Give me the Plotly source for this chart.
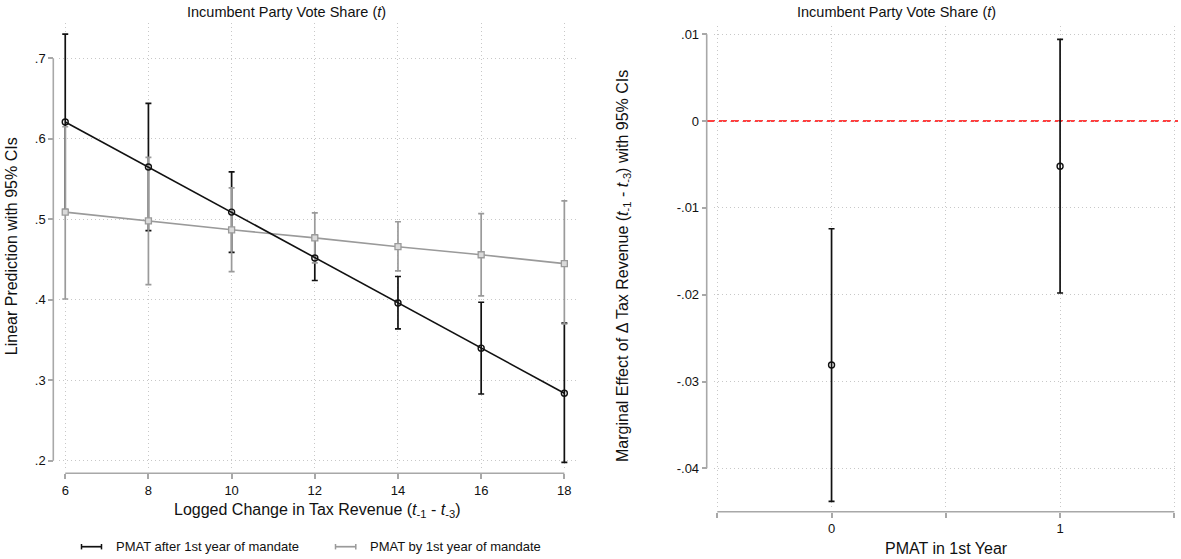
import plotly.graph_objects as go

# ---------------- data ----------------
tax_change = [6, 8, 10, 12, 14, 16, 18]

after_est = [0.621, 0.565, 0.509, 0.452, 0.396, 0.340, 0.284]
after_lo = [0.512, 0.486, 0.459, 0.424, 0.364, 0.283, 0.198]
after_hi = [0.730, 0.644, 0.559, 0.480, 0.429, 0.397, 0.371]

by_est = [0.509, 0.498, 0.487, 0.477, 0.466, 0.456, 0.445]
by_lo = [0.401, 0.419, 0.435, 0.446, 0.436, 0.405, 0.370]
by_hi = [0.615, 0.577, 0.539, 0.508, 0.497, 0.507, 0.523]

pmat_cat = [0, 1]
me_est = [-0.0281, -0.0052]
me_lo = [-0.0438, -0.0198]
me_hi = [-0.0124, 0.0094]

left_yticks = [0.2, 0.3, 0.4, 0.5, 0.6, 0.7]
left_ytext = [".2", ".3", ".4", ".5", ".6", ".7"]
left_xticks = [6, 8, 10, 12, 14, 16, 18]
left_xtext = ["6", "8", "10", "12", "14", "16", "18"]

right_yticks = [-0.04, -0.03, -0.02, -0.01, 0, 0.01]
right_ytext = ["-.04", "-.03", "-.02", "-.01", "0", ".01"]
right_xticks = [0, 1]
right_xtext = ["0", "1"]
right_xrange_ends = [-0.5, 1.5]

series_names = ["PMAT after 1st year of mandate", "PMAT by 1st year of mandate"]

# ---------------- layout helpers ----------------
W, H = 1181, 559
FONT = "Liberation Sans, Arial, sans-serif"
BLACK = "#111111"
GRAY = "#9a9a9a"
AXC = "#a8a8a8"
GRIDC = "#c8c8c8"


def px(x):
    return x / W


def py(y):
    return 1 - y / H


def diff(a, b):
    return [x - y for x, y in zip(a, b)]


fig = go.Figure()

# CIs first (black, then gray on top), then connected lines
fig.add_trace(go.Scatter(
    x=tax_change, y=after_est, mode="markers", marker=dict(size=1, opacity=0),
    error_y=dict(type="data", symmetric=False, array=diff(after_hi, after_est),
                 arrayminus=diff(after_est, after_lo), color=BLACK, thickness=1.7, width=3),
    showlegend=False, hoverinfo="skip", xaxis="x", yaxis="y"))
fig.add_trace(go.Scatter(
    x=tax_change, y=by_est, mode="markers", marker=dict(size=1, opacity=0),
    error_y=dict(type="data", symmetric=False, array=diff(by_hi, by_est),
                 arrayminus=diff(by_est, by_lo), color=GRAY, thickness=1.7, width=3),
    showlegend=False, hoverinfo="skip", xaxis="x", yaxis="y"))
fig.add_trace(go.Scatter(
    x=tax_change, y=by_est, mode="lines+markers", name=series_names[1],
    line=dict(color=GRAY, width=1.6),
    marker=dict(symbol="square", size=6, color="#dadada", line=dict(color=GRAY, width=1.3)),
    showlegend=False, xaxis="x", yaxis="y"))
fig.add_trace(go.Scatter(
    x=tax_change, y=after_est, mode="lines+markers", name=series_names[0],
    line=dict(color=BLACK, width=1.6),
    marker=dict(symbol="circle-open", size=6, color=BLACK, line=dict(width=1.4)),
    showlegend=False, xaxis="x", yaxis="y"))

# right panel
fig.add_trace(go.Scatter(
    x=pmat_cat, y=me_est, mode="markers",
    marker=dict(symbol="circle-open", size=6, color=BLACK, line=dict(width=1.4)),
    error_y=dict(type="data", symmetric=False, array=diff(me_hi, me_est),
                 arrayminus=diff(me_est, me_lo), color=BLACK, thickness=1.7, width=3),
    showlegend=False, xaxis="x2", yaxis="y2"))

tickfont = dict(family=FONT, size=13, color=BLACK)
common_axis = dict(showline=False, zeroline=False, showgrid=True, gridcolor=GRIDC,
                   gridwidth=1, griddash="1px,3px", ticks="outside", ticklen=5,
                   tickwidth=1.5, tickcolor=AXC, tickfont=tickfont, tickmode="array")

fig.update_layout(
    width=W, height=H, margin=dict(l=0, r=0, t=0, b=0),
    paper_bgcolor="white", plot_bgcolor="white", showlegend=False,
    font=dict(family=FONT, color=BLACK),
    xaxis=dict(domain=[px(59), px(576)], range=[5.85, 18.28], anchor="free",
               position=py(473.3), tickvals=left_xticks, ticktext=left_xtext, **common_axis),
    yaxis=dict(domain=[py(470), py(23)], range=[0.1886, 0.7439], anchor="free",
               position=px(53.3), tickvals=left_yticks, ticktext=left_ytext, **common_axis),
    xaxis2=dict(domain=[px(714), px(1178)], range=[-0.5144, 1.516], anchor="free",
                position=py(511.7), tickvals=right_xticks, ticktext=right_xtext,
                minor=dict(tick0=right_xrange_ends[0], dtick=0.5, ticks="outside", ticklen=5,
                           tickwidth=1.5, tickcolor=AXC, showgrid=True, gridcolor=GRIDC,
                           gridwidth=1, griddash="1px,3px"),
                **common_axis),
    yaxis2=dict(domain=[py(507), py(26)], range=[-0.04445, 0.01095], anchor="free",
                position=px(706.7), tickvals=right_yticks, ticktext=right_ytext, **common_axis),
)

shapes = [
    # Stata-style axis lines spanning the tick range
    dict(type="line", xref="paper", yref="y", x0=px(53.3), x1=px(53.3),
         y0=min(left_yticks), y1=max(left_yticks), line=dict(color=AXC, width=1.6)),
    dict(type="line", xref="x", yref="paper", x0=min(left_xticks), x1=max(left_xticks),
         y0=py(473.3), y1=py(473.3), line=dict(color=AXC, width=1.6)),
    dict(type="line", xref="paper", yref="y2", x0=px(706.7), x1=px(706.7),
         y0=min(right_yticks), y1=max(right_yticks), line=dict(color=AXC, width=1.6)),
    dict(type="line", xref="x2", yref="paper", x0=right_xrange_ends[0], x1=right_xrange_ends[1],
         y0=py(511.7), y1=py(511.7), line=dict(color=AXC, width=1.6)),
    # reference line at zero
    dict(type="line", xref="paper", yref="y2", x0=px(707), x1=px(1178), y0=0, y1=0,
         line=dict(color="#ff0000", width=1.4, dash="8px,4px"), layer="below"),
]

# legend symbols (rcap style)
leg_y = py(546.7)
for (x0, x1), col in [((81.5, 101.5), BLACK), ((335.5, 355.8), GRAY)]:
    shapes.append(dict(type="line", xref="paper", yref="paper", x0=px(x0), x1=px(x1),
                       y0=leg_y, y1=leg_y, line=dict(color=col, width=1.7)))
    for xc in (x0, x1):
        shapes.append(dict(type="line", xref="paper", yref="paper", x0=px(xc), x1=px(xc),
                           y0=py(544), y1=py(549.4), line=dict(color=col, width=1.5)))
fig.update_layout(shapes=shapes)

title_txt = "Incumbent Party Vote Share (<i>t</i>)"
sub_txt = "(<i>t</i><sub>-1</sub> - <i>t</i><sub>-3</sub>)"
ann = [
    dict(text=title_txt, x=px(286), y=py(12), font=dict(size=14.5)),
    dict(text=title_txt, x=px(896), y=py(12), font=dict(size=14.5)),
    dict(text="Logged Change in Tax Revenue " + sub_txt, x=px(317), y=py(510), font=dict(size=16)),
    dict(text="PMAT in 1st Year", x=px(946), y=py(548), font=dict(size=16)),
    dict(text="Linear Prediction with 95% CIs", x=px(11.7), y=py(246.5), textangle=-90,
         font=dict(size=16)),
    dict(text="Marginal Effect of \u0394 Tax Revenue " + sub_txt + " with 95% CIs",
         x=px(623), y=py(266), textangle=-90, font=dict(size=16)),
    dict(text=series_names[0], x=px(114), y=leg_y, xanchor="left", font=dict(size=13)),
    dict(text=series_names[1], x=px(368.4), y=leg_y, xanchor="left", font=dict(size=13)),
]
for a in ann:
    a.setdefault("xanchor", "center")
    a.update(xref="paper", yref="paper", yanchor="middle", showarrow=False)
    a["font"] = dict(family=FONT, color=BLACK, **a["font"])
fig.update_layout(annotations=ann)

fig.write_html("out.html", config={"displayModeBar": False},
               post_script="document.body.style.margin='0';document.body.style.padding='0';")
